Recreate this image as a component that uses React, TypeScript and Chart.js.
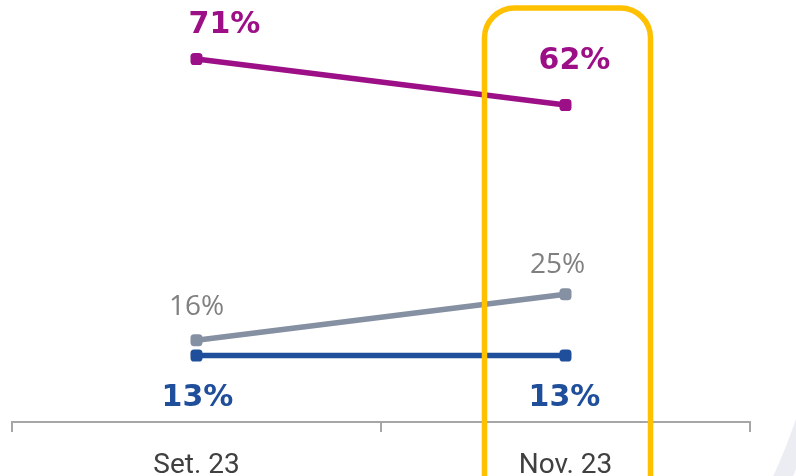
import React, { useEffect, useRef } from "react";
import { Chart, registerables } from "chart.js";

Chart.register(...registerables);

const categories = ["Set. 23", "Nov. 23"];
const seriesTop = [71, 62];
const seriesMid = [16, 25];
const seriesLow = [13, 13];

const MAGENTA = "#9C0F87";
const GREY = "#8590A2";
const BLUE = "#1F4E9A";
const HIGHLIGHT = "#FFC000";

// label placement (pixel offsets from point), per dataset
const labelOffsets = [
  { dx: [28, 9], dy: [-34, -44] },
  { dx: [0, -8], dy: [-33, -29] },
  { dx: [1, -1], dy: [43, 43] },
];
const labelFonts = [
  { font: "bold 30px 'DejaVu Sans'", color: MAGENTA },
  { font: "28px 'Open Sans'", color: "#808080" },
  { font: "bold 30px 'DejaVu Sans'", color: BLUE },
];

const decorPlugin = {
  id: "decor",
  beforeDraw(chart: any) {
    const ctx = chart.ctx;
    ctx.save();
    ctx.fillStyle = "#ffffff";
    ctx.fillRect(0, 0, chart.width, chart.height);
    ctx.beginPath();
    ctx.strokeStyle = "#ECEDF2";
    ctx.lineWidth = 18;
    ctx.arc(237, 230, 599, 0, Math.PI / 2);
    ctx.stroke();
    ctx.restore();
  },
  afterDatasetsDraw(chart: any) {
    const ctx = chart.ctx;
    ctx.save();
    ctx.textAlign = "center";
    ctx.textBaseline = "middle";
    chart.data.datasets.forEach((ds: any, i: number) => {
      const meta = chart.getDatasetMeta(i);
      ctx.font = labelFonts[i].font;
      ctx.fillStyle = labelFonts[i].color;
      meta.data.forEach((pt: any, j: number) => {
        ctx.fillText(
          ds.data[j] + "%",
          pt.x + labelOffsets[i].dx[j],
          pt.y + labelOffsets[i].dy[j]
        );
      });
    });
    ctx.restore();
  },
  afterDraw(chart: any) {
    const ctx = chart.ctx;
    const xs = chart.scales.x;
    const cx = xs.getPixelForValue(1) + 2;
    const half = 83;
    const left = cx - half;
    const right = cx + half;
    const top = 8;
    const bottom = 505;
    const r = 30;
    ctx.save();
    ctx.strokeStyle = HIGHLIGHT;
    ctx.lineWidth = 5.5;
    ctx.beginPath();
    ctx.roundRect(left, top, right - left, bottom - top, r);
    ctx.stroke();
    ctx.restore();
  },
};

export default function App() {
  const ref = useRef<HTMLCanvasElement | null>(null);
  useEffect(() => {
    if (!ref.current) return;
    const mk = (data: number[], color: string) => ({
      data,
      borderColor: color,
      backgroundColor: color,
      borderWidth: 5.5,
      pointStyle: "rectRounded" as const,
      pointRadius: 7,
      pointBorderWidth: 0,
      pointBackgroundColor: color,
      tension: 0,
      clip: false as const,
    });
    const chart = new Chart(ref.current, {
      type: "line",
      data: {
        labels: categories,
        datasets: [mk(seriesTop, MAGENTA), mk(seriesMid, GREY), mk(seriesLow, BLUE)],
      },
      options: {
        animation: false,
        responsive: false,
        maintainAspectRatio: false,
        layout: { padding: { left: 12, right: 46, top: 13, bottom: 0 } },
        plugins: { legend: { display: false }, tooltip: { enabled: false } },
        scales: {
          y: { display: false, min: 0, max: 80 },
          x: {
            type: "category",
            offset: true,
            afterFit: (s: any) => {
              s.height = 54;
            },
            border: { display: true, color: "#A6A6A6", width: 2 },
            grid: {
              offset: true,
              drawOnChartArea: false,
              drawTicks: true,
              tickLength: 10,
              color: "#A6A6A6",
              lineWidth: 2,
            },
            ticks: {
              color: "#404040",
              font: { family: "Roboto", size: 28 },
              padding: 17,
            },
          },
        },
      },
      plugins: [decorPlugin],
    });
    return () => chart.destroy();
  }, []);
  return (
    <div style={{ position: "fixed", left: 0, top: 0, width: 796, height: 476, background: "#fff" }}>
      <canvas ref={ref} width={796} height={476} style={{ display: "block" }} />
    </div>
  );
}
